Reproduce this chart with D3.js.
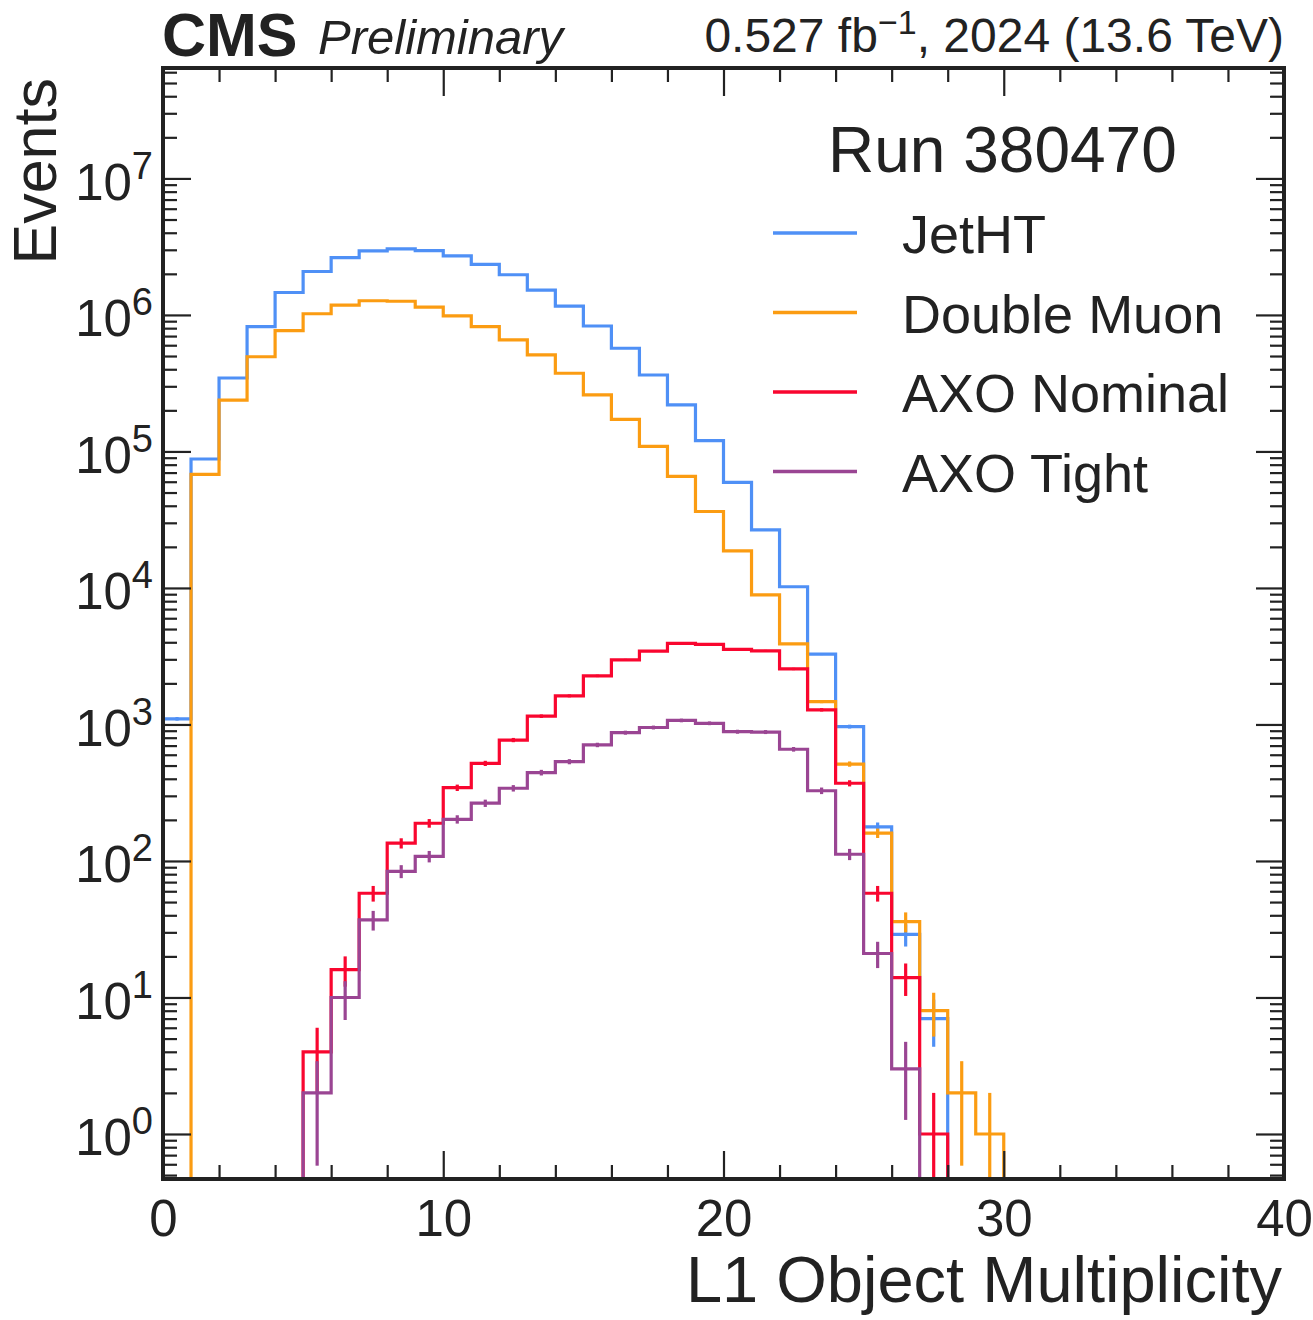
<!DOCTYPE html>
<html>
<head>
<meta charset="utf-8">
<script src="https://cdn.jsdelivr.net/npm/d3@7"></script>
<style>
  html, body { margin: 0; padding: 0; background: #fff; }
  svg text { font-family: "Liberation Sans", Arial, Helvetica, sans-serif; fill: #222; }
</style>
</head>
<body>
<svg id="chart" width="1313" height="1320"></svg>
<script>
// L1 object multiplicity per event, one-unit bins starting at 0
const binEdges = d3.range(0, 41);

const seriesNames = ["JetHT", "Double Muon", "AXO Nominal", "AXO Tight"];
const seriesColors = ["#4f90f6", "#fb9c12", "#f9062f", "#9a4593"];

const jetHT = [1100, 88000, 345000, 820000, 1460000, 2080000, 2630000, 2950000, 3050000, 2960000,
               2710000, 2350000, 1970000, 1520000, 1160000, 830000, 570000, 363000, 219000, 120000,
               59300, 26600, 10200, 3280, 965, 178, 29, 7, 0, 0];
const doubleMuon = [0, 68000, 238000, 494000, 767000, 1020000, 1180000, 1270000, 1260000, 1140000,
                    985000, 820000, 656000, 510000, 374000, 260000, 172000, 109000, 65600, 36300,
                    18700, 8900, 3890, 1470, 513, 160, 36, 8, 2, 1];
const axoNominal = [0, 0, 0, 0, 0, 4, 16, 58, 135, 189,
                    344, 519, 769, 1150, 1620, 2270, 2970, 3450, 3930, 3860,
                    3550, 3460, 2550, 1280, 371, 58, 14, 1, 0, 0];
const axoTight = [0, 0, 0, 0, 0, 2, 10, 37, 84, 108,
                  202, 265, 341, 444, 534, 708, 871, 950, 1070, 1020,
                  885, 880, 658, 327, 112, 21, 3, 0, 0, 0];

const xMajorTicks = [0, 10, 20, 30, 40];
const xMinorTicks = [2, 4, 6, 8, 12, 14, 16, 18, 22, 24, 26, 28, 32, 34, 36, 38];
const yMajorExponents = [0, 1, 2, 3, 4, 5, 6, 7];

const seriesValues = [jetHT, doubleMuon, axoNominal, axoTight];

// ---------------------------------------------------------------
const svg = d3.select("#chart");
const pLeft = 163, pRight = 1284, pTop = 68, pBottom = 1179;

const x = d3.scaleLinear().domain([binEdges[0], binEdges[binEdges.length - 1]]).range([pLeft, pRight]);
const y = d3.scaleLog().domain([0.468, 6.44e7]).range([pBottom, pTop]);

svg.append("defs").append("clipPath").attr("id", "plotClip")
  .append("rect").attr("x", pLeft).attr("y", pTop)
  .attr("width", pRight - pLeft).attr("height", pBottom - pTop);

const plot = svg.append("g").attr("clip-path", "url(#plotClip)");
const below = pBottom + 20;   // drop-off point under the visible range
const yv = v => (v > 0 ? y(v) : below);

// step outline of each histogram plus its Poisson error bars
seriesValues.forEach((vals, si) => {
  const nz = vals.map((v, i) => (v > 0 ? i : -1)).filter(i => i >= 0);
  const i0 = nz[0], i1 = nz[nz.length - 1];
  const path = d3.path();
  path.moveTo(x(binEdges[i0]), below);
  for (let i = i0; i <= i1; i++) {
    path.lineTo(x(binEdges[i]), yv(vals[i]));
    path.lineTo(x(binEdges[i + 1]), yv(vals[i]));
  }
  path.lineTo(x(binEdges[i1 + 1]), below);

  const g = plot.append("g").attr("class", "series");
  g.append("path")
    .attr("d", path.toString())
    .attr("fill", "none")
    .attr("stroke", seriesColors[si])
    .attr("stroke-width", 3.2)
    .attr("stroke-linejoin", "miter");

  g.selectAll("line.err")
    .data(vals.map((v, i) => ({ v, i })).filter(d => d.v > 0))
    .join("line")
    .attr("class", "err")
    .attr("x1", d => x((binEdges[d.i] + binEdges[d.i + 1]) / 2))
    .attr("x2", d => x((binEdges[d.i] + binEdges[d.i + 1]) / 2))
    .attr("y1", d => { const lo = d.v - Math.sqrt(d.v); return lo > 0 ? y(lo) : below; })
    .attr("y2", d => y(d.v + Math.sqrt(d.v)))
    .attr("stroke", seriesColors[si])
    .attr("stroke-width", 3.2);
});

// ---------------------------------------------------------------
// axes: ticks point inward and are mirrored on the opposite sides
const tickCol = "#222";
function styleAxis(g) {
  g.select(".domain").remove();
  g.selectAll(".tick line").attr("stroke", tickCol).attr("stroke-width", 2.2);
}

const yMinorTicks = [];
for (let e = -1; e <= 7; e++) {
  for (let k = 2; k <= 9; k++) {
    const v = k * Math.pow(10, e);
    if (v >= y.domain()[0] && v <= y.domain()[1]) yMinorTicks.push(v);
  }
}
const yMajorTicks = yMajorExponents.map(e => Math.pow(10, e));

// bottom
svg.append("g").attr("transform", `translate(0,${pBottom})`)
  .call(d3.axisBottom(x).tickValues(xMajorTicks).tickSize(-28).tickPadding(21).tickFormat(d3.format("d")))
  .call(styleAxis)
  .call(g => g.selectAll("text").attr("font-size", 51).attr("fill", "#222")
    .style("font-family", "'Liberation Sans', Arial, sans-serif"));
svg.append("g").attr("transform", `translate(0,${pBottom})`)
  .call(d3.axisBottom(x).tickValues(xMinorTicks).tickSize(-14).tickFormat(""))
  .call(styleAxis);
// top
svg.append("g").attr("transform", `translate(0,${pTop})`)
  .call(d3.axisTop(x).tickValues(xMajorTicks).tickSize(-28).tickFormat(""))
  .call(styleAxis);
svg.append("g").attr("transform", `translate(0,${pTop})`)
  .call(d3.axisTop(x).tickValues(xMinorTicks).tickSize(-14).tickFormat(""))
  .call(styleAxis);

// left with power-of-ten labels
const yAxisG = svg.append("g").attr("transform", `translate(${pLeft},0)`)
  .call(d3.axisLeft(y).tickValues(yMajorTicks).tickSize(-28).tickPadding(10).tickFormat(() => ""))
  .call(styleAxis);
yAxisG.selectAll(".tick text").each(function(d) {
  const t = d3.select(this)
    .attr("dy", null)
    .attr("y", 21)
    .attr("font-size", 51)
    .attr("fill", "#222")
    .style("font-family", "'Liberation Sans', Arial, sans-serif");
  t.text(null);
  t.append("tspan").text("10");
  t.append("tspan").attr("dy", -21).attr("font-size", 38).text(String(Math.round(Math.log10(d))));
});
svg.append("g").attr("transform", `translate(${pLeft},0)`)
  .call(d3.axisLeft(y).tickValues(yMinorTicks).tickSize(-14).tickFormat(""))
  .call(styleAxis);
// right
svg.append("g").attr("transform", `translate(${pRight},0)`)
  .call(d3.axisRight(y).tickValues(yMajorTicks).tickSize(-28).tickFormat(""))
  .call(styleAxis);
svg.append("g").attr("transform", `translate(${pRight},0)`)
  .call(d3.axisRight(y).tickValues(yMinorTicks).tickSize(-14).tickFormat(""))
  .call(styleAxis);

// frame
svg.append("rect")
  .attr("x", pLeft).attr("y", pTop)
  .attr("width", pRight - pLeft).attr("height", pBottom - pTop)
  .attr("fill", "none").attr("stroke", "#222").attr("stroke-width", 4);

// axis titles
svg.append("text")
  .attr("x", 1282).attr("y", 1302)
  .attr("text-anchor", "end").attr("font-size", 65)
  .text("L1 Object Multiplicity");
svg.append("text")
  .attr("transform", `translate(56,${pTop + 10}) rotate(-90)`)
  .attr("text-anchor", "end").attr("font-size", 61)
  .text("Events");

// header
svg.append("text")
  .attr("x", 162).attr("y", 56)
  .attr("font-size", 61).attr("font-weight", "bold")
  .text("CMS");
svg.append("text")
  .attr("x", 318).attr("y", 54)
  .attr("font-size", 49).attr("font-style", "italic")
  .text("Preliminary");
const lumi = svg.append("text")
  .attr("x", 1284).attr("y", 52)
  .attr("text-anchor", "end").attr("font-size", 48);
lumi.append("tspan").text("0.527 fb");
lumi.append("tspan").attr("dy", -18).attr("font-size", 34).text("\u22121");
lumi.append("tspan").attr("dy", 18).text(", 2024 (13.6 TeV)");

// legend
const legend = svg.append("g");
legend.append("text")
  .attr("x", 828).attr("y", 172)
  .attr("font-size", 64)
  .text("Run 380470");
seriesNames.forEach((name, i) => {
  const ly = 233 + i * 79.5;
  legend.append("line")
    .attr("x1", 773).attr("x2", 857).attr("y1", ly).attr("y2", ly)
    .attr("stroke", seriesColors[i]).attr("stroke-width", 3.5);
  legend.append("text")
    .attr("x", 902).attr("y", ly + 20)
    .attr("font-size", 54)
    .text(name);
});
</script>
</body>
</html>
